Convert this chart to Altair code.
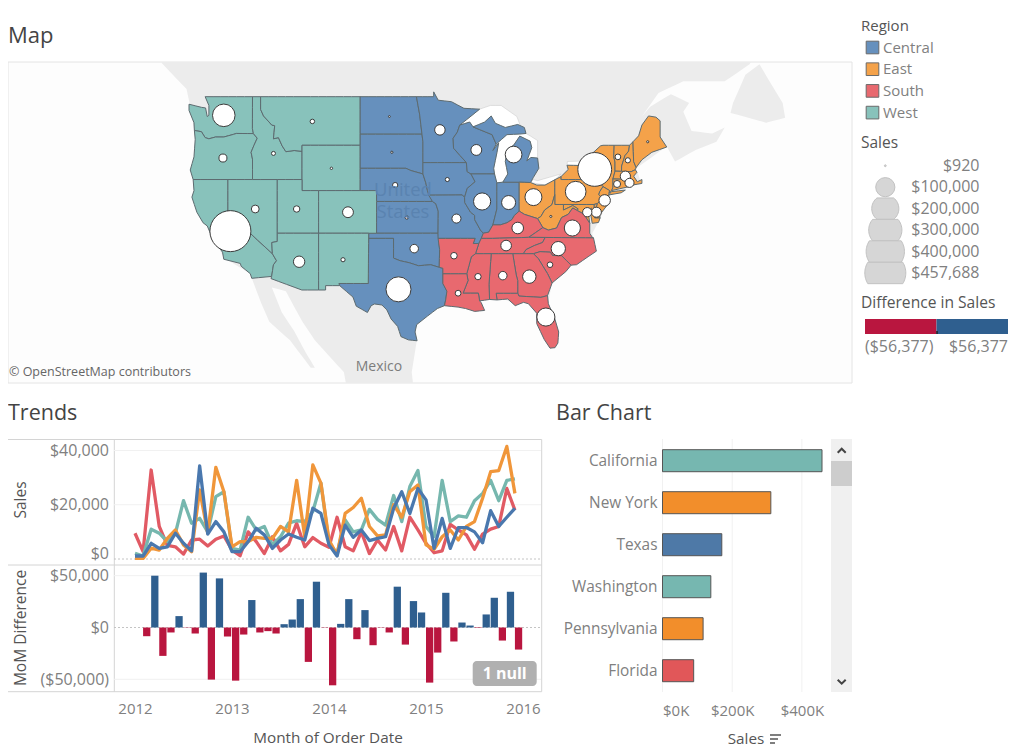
import math
import altair as alt

W, H = 1008, 740
FONT = "Open Sans"
GREY = "#808080"
DARK = "#555555"
TITLE = "#444444"
FRAME = "#d4d4d4"
FAINT = "#f1f1f1"

REGIONS = ["Central", "East", "South", "West"]
MAP_COLORS = ["#6690bd", "#f4a24a", "#e8696f", "#88c2bb"]
LINE_COLORS = ["#4a78ae", "#f0963a", "#e15a64", "#76b7ae"]
BAR_COLORS = ["#4e79a7", "#f28e2b", "#e15759", "#76b7b0"]
NEG, POS = "#b9163f", "#2f5f8f"

STATE_REGION = {
    "Central": ["North Dakota", "South Dakota", "Nebraska", "Kansas", "Oklahoma", "Texas", "Minnesota", "Iowa",
                "Missouri", "Wisconsin", "Illinois", "Indiana", "Michigan"],
    "East": ["Ohio", "Pennsylvania", "New York", "Vermont", "New Hampshire", "Maine", "Massachusetts", "Rhode Island",
             "Connecticut", "New Jersey", "Delaware", "Maryland", "West Virginia"],
    "South": ["Kentucky", "Virginia", "Tennessee", "North Carolina", "South Carolina", "Georgia", "Florida", "Alabama",
              "Mississippi", "Louisiana", "Arkansas"],
    "West": ["Washington", "Oregon", "California", "Nevada", "Idaho", "Montana", "Wyoming", "Utah", "Colorado",
             "Arizona", "New Mexico"],
}

STATE_SALES = {
    "California": 457688, "New York": 310876, "Texas": 170188, "Washington": 138641, "Pennsylvania": 116512,
    "Florida": 89474, "Illinois": 80166, "Ohio": 78258, "Michigan": 76270, "Virginia": 70637,
    "North Carolina": 55603, "Indiana": 53555, "Georgia": 49096, "Kentucky": 36592, "New Jersey": 35764,
    "Arizona": 35282, "Wisconsin": 32115, "Colorado": 32108, "Tennessee": 30662, "Minnesota": 29863,
    "Massachusetts": 28634, "Delaware": 27451, "Maryland": 23706, "Rhode Island": 22628, "Missouri": 22205,
    "Oklahoma": 19683, "Alabama": 19511, "Oregon": 17431, "Nevada": 16729, "Connecticut": 13384, "Utah": 11220,
    "Arkansas": 11678, "Mississippi": 10771, "Louisiana": 9217, "Vermont": 8929, "South Carolina": 8482,
    "Nebraska": 7465, "New Hampshire": 7293, "Montana": 5589, "New Mexico": 4784, "Iowa": 4580, "Kansas": 2914,
    "Idaho": 4382, "Wyoming": 1603, "South Dakota": 1316, "Maine": 1271, "West Virginia": 1210, "North Dakota": 920,
}

STATE_CENTER = {
    "Washington": (-120.5, 47.5), "Oregon": (-120.6, 43.9), "California": (-119.7, 37.2), "Nevada": (-116.7, 39.3),
    "Idaho": (-114.5, 44.3), "Montana": (-109.8, 47.0), "Wyoming": (-107.5, 43.0), "Utah": (-111.7, 39.3),
    "Colorado": (-105.5, 39.0), "Arizona": (-111.4, 34.2), "New Mexico": (-106.1, 34.4),
    "North Dakota": (-100.5, 47.4), "South Dakota": (-100.2, 44.4), "Nebraska": (-99.8, 41.5), "Kansas": (-98.4, 38.5),
    "Oklahoma": (-97.5, 35.5), "Texas": (-99.4, 31.4), "Minnesota": (-94.4, 46.3), "Iowa": (-93.5, 42.0),
    "Missouri": (-92.4, 38.4), "Wisconsin": (-90.0, 44.6), "Illinois": (-89.3, 40.0), "Michigan": (-85.5, 44.2),
    "Indiana": (-86.1, 39.9), "Ohio": (-83.1, 40.4), "Kentucky": (-85.0, 37.5), "Tennessee": (-86.4, 35.8),
    "Arkansas": (-92.7, 34.8), "Louisiana": (-92.2, 31.0), "Mississippi": (-89.8, 32.7), "Alabama": (-86.8, 32.8),
    "Georgia": (-83.6, 32.7), "South Carolina": (-81.1, 33.9), "North Carolina": (-80.1, 35.5),
    "Virginia": (-78.4, 37.5), "West Virginia": (-81.0, 38.6), "Florida": (-81.6, 28.5), "Pennsylvania": (-78.0, 40.9),
    "New York": (-75.7, 42.9), "Vermont": (-72.9, 44.0), "New Hampshire": (-71.7, 43.7), "Maine": (-69.3, 45.3),
    "Massachusetts": (-72.0, 42.3), "Rhode Island": (-71.5, 41.7), "Connecticut": (-73.0, 41.6),
    "New Jersey": (-74.5, 40.1), "Delaware": (-75.5, 39.0), "Maryland": (-76.6, 39.0),
}

OUTLINES = {
    "Washington": [[(-124.7,48.4),(-123.2,48.15),(-122.7,48.1),(-122.5,47.4),(-122.3,47.5),(-122.3,48.3),(-122.75,49),(-117.03,49),(-117.04,46.4),(-116.92,45.99),(-118.98,46),(-119.3,45.93),(-120.5,45.7),(-121.5,45.7),(-122.3,45.55),(-122.75,45.65),(-123.2,46.15),(-124.05,46.25),(-124.1,46.9),(-124.7,47.9)]],
    "Oregon": [[(-124.05,46.25),(-123.2,46.15),(-122.75,45.65),(-122.3,45.55),(-121.5,45.7),(-120.5,45.7),(-119.3,45.93),(-118.98,46),(-116.92,45.99),(-116.46,45.6),(-116.85,45),(-117.2,44.4),(-117.03,43.8),(-117.03,42),(-124.2,42),(-124.55,42.85),(-124.1,44),(-123.95,45.5)]],
    "Idaho": [[(-117.03,49),(-116.05,49),(-116.05,47.98),(-115.7,47.45),(-114.7,46.7),(-114.35,46.65),(-114.5,45.55),(-113.9,45.65),(-113.45,44.95),(-113,44.45),(-112,44.55),(-111.05,44.48),(-111.05,42),(-117.03,42),(-117.03,43.8),(-117.2,44.4),(-116.85,45),(-116.46,45.6),(-116.92,45.99),(-117.04,46.4)]],
    "Montana": [[(-116.05,49),(-104.05,49),(-104.05,45),(-111.05,45),(-111.05,44.48),(-112,44.55),(-113,44.45),(-113.45,44.95),(-113.9,45.65),(-114.5,45.55),(-114.35,46.65),(-114.7,46.7),(-115.7,47.45),(-116.05,47.98)]],
    "Wyoming": [[(-111.05,45),(-104.05,45),(-104.05,41),(-111.05,41)]],
    "Nevada": [[(-120,42),(-114.04,42),(-114.04,36.2),(-114.7,36.1),(-114.63,35),(-120,39)]],
    "Utah": [[(-114.04,42),(-111.05,42),(-111.05,41),(-109.05,41),(-109.05,37),(-114.04,37)]],
    "California": [[(-124.2,42),(-120,42),(-120,39),(-114.63,35),(-114.13,34.3),(-114.5,33.9),(-114.72,32.72),(-117.12,32.53),(-117.3,33),(-118.4,33.75),(-118.5,34.03),(-120.5,34.45),(-120.65,35.15),(-121.9,36.6),(-122.5,37.7),(-123,38),(-123.75,39),(-124.35,40.4),(-124.1,41)]],
    "Arizona": [[(-114.63,35),(-114.7,36.1),(-114.04,36.2),(-114.04,37),(-109.05,37),(-109.05,31.33),(-111.07,31.33),(-114.8,32.5),(-114.72,32.72),(-114.5,33.9),(-114.13,34.3)]],
    "Colorado": [[(-109.05,41),(-102.05,41),(-102.05,37),(-109.05,37)]],
    "New Mexico": [[(-109.05,37),(-103,37),(-103.05,32),(-106.6,32),(-106.5,31.78),(-108.2,31.78),(-108.2,31.33),(-109.05,31.33)]],
    "North Dakota": [[(-104.05,49),(-97.23,49),(-96.85,47.6),(-96.56,45.94),(-104.05,45.94)]],
    "South Dakota": [[(-104.05,45.94),(-96.56,45.94),(-96.45,45.3),(-96.45,43.5),(-96.45,42.5),(-97.9,42.8),(-98.5,43),(-104.05,43)]],
    "Nebraska": [[(-104.05,43),(-98.5,43),(-97.9,42.8),(-96.45,42.5),(-96.1,41.7),(-95.9,41),(-95.3,40),(-102.05,40),(-102.05,41),(-104.05,41)]],
    "Kansas": [[(-102.05,40),(-95.3,40),(-94.9,39.8),(-94.6,39.1),(-94.62,37),(-102.05,37)]],
    "Oklahoma": [[(-103,37),(-94.62,37),(-94.43,35.4),(-94.48,33.64),(-95.5,33.9),(-97,33.8),(-98.1,34.1),(-99.2,34.3),(-100,34.56),(-100,36.5),(-103,36.5)]],
    "Texas": [[(-106.6,32),(-103.05,32),(-103,36.5),(-100,36.5),(-100,34.56),(-99.2,34.3),(-98.1,34.1),(-97,33.8),(-95.5,33.9),(-94.48,33.64),(-94.04,33.55),(-94.04,33),(-94.04,32),(-93.55,31.2),(-93.7,30.3),(-93.85,29.7),(-94.7,29.4),(-95.9,28.6),(-97.2,27.7),(-97.4,26.9),(-97.15,25.95),(-98.2,26.05),(-99.1,26.4),(-99.5,27.5),(-100.3,28.3),(-100.8,29.25),(-101.4,29.77),(-102.3,29.88),(-102.7,29.7),(-103.15,28.98),(-104.5,29.65),(-104.9,30.6),(-106.5,31.78)]],
    "Minnesota": [[(-97.23,49),(-95.15,49),(-95.15,49.38),(-94.6,48.72),(-93,48.6),(-91.5,48.07),(-89.6,48),(-92,46.7),(-92.3,46.1),(-92.8,45.6),(-92.75,44.75),(-91.2,43.5),(-96.45,43.5),(-96.45,45.3),(-96.56,45.94),(-96.85,47.6)]],
    "Iowa": [[(-96.45,43.5),(-91.2,43.5),(-91.1,42.7),(-90.64,42.5),(-90.15,41.8),(-91.1,41.2),(-91.42,40.38),(-91.7,40.6),(-95.75,40.58),(-95.9,41),(-96.1,41.7),(-96.45,42.5)]],
    "Missouri": [[(-95.75,40.58),(-91.7,40.6),(-91.42,40.38),(-91.4,39.9),(-90.7,39),(-90.2,38.7),(-90.2,38.3),(-89.5,37.3),(-89.15,37),(-89.4,36.5),(-89.7,36),(-90.37,36),(-90.15,36.5),(-94.62,36.5),(-94.62,37),(-94.6,39.1),(-94.9,39.8),(-95.3,40)]],
    "Arkansas": [[(-94.62,36.5),(-90.15,36.5),(-90.37,36),(-89.7,36),(-90.1,35),(-90.6,34.7),(-91.15,33),(-94.04,33),(-94.04,33.55),(-94.48,33.64),(-94.43,35.4)]],
    "Louisiana": [[(-94.04,33),(-91.15,33),(-91,32.3),(-91.6,31),(-89.75,31),(-89.6,30.2),(-89.4,30),(-89,29.2),(-90.2,29.1),(-91.3,29.4),(-92.2,29.55),(-93.85,29.7),(-93.7,30.3),(-93.55,31.2),(-94.04,32)]],
    "Mississippi": [[(-90.1,35),(-88.2,35),(-88.47,31.9),(-88.4,30.35),(-89.6,30.2),(-89.75,31),(-91.6,31),(-91,32.3),(-91.15,33),(-90.6,34.7)]],
    "Alabama": [[(-88.2,35),(-85.6,35),(-85.18,32.87),(-85,32.3),(-85,31),(-87.6,31),(-87.5,30.3),(-88.4,30.35),(-88.47,31.9)]],
    "Georgia": [[(-85.6,35),(-83.1,35),(-82.5,34.5),(-81.4,33),(-80.85,32.05),(-81.4,30.75),(-82.2,30.57),(-84.85,30.7),(-85,31),(-85,32.3),(-85.18,32.87)]],
    "Florida": [[(-87.6,31),(-85,31),(-84.85,30.7),(-82.2,30.57),(-81.4,30.75),(-81.3,29.9),(-80.55,28.4),(-80.05,26.9),(-80.15,25.7),(-80.5,25.2),(-81.1,25.15),(-81.8,26.1),(-82.7,27.8),(-82.7,28.9),(-83.7,29.9),(-84.3,30.05),(-85.3,29.7),(-86.2,30.4),(-87.5,30.3)]],
    "South Carolina": [[(-83.1,35),(-82.3,35.2),(-81.05,35.15),(-80.8,34.82),(-79.7,34.8),(-78.55,33.86),(-79.2,33.2),(-80.5,32.3),(-80.85,32.05),(-81.4,33),(-82.5,34.5)]],
    "North Carolina": [[(-84.32,35),(-83.1,35),(-82.3,35.2),(-81.05,35.15),(-80.8,34.82),(-79.7,34.8),(-78.55,33.86),(-77.9,33.9),(-76.5,34.7),(-75.5,35.25),(-75.85,36.55),(-81.68,36.59),(-82,36.1),(-83,35.8),(-84,35.4)]],
    "Tennessee": [[(-89.7,36),(-89.4,36.5),(-88.05,36.5),(-83.68,36.6),(-81.68,36.59),(-82,36.1),(-83,35.8),(-84,35.4),(-84.32,35),(-85.6,35),(-88.2,35),(-90.1,35)]],
    "Kentucky": [[(-89.4,36.5),(-89.15,37),(-88.5,37.1),(-88,37.8),(-87.1,37.8),(-86.3,38),(-85.7,38.3),(-85.4,38.7),(-84.82,39.1),(-84.2,38.8),(-83.6,38.65),(-82.6,38.4),(-81.97,37.54),(-83.68,36.6),(-88.05,36.5)]],
    "Virginia": [[(-83.68,36.6),(-81.97,37.54),(-81.3,37.3),(-80.3,37.5),(-79.7,38.5),(-78.9,38.8),(-78.35,39.4),(-77.8,39.15),(-77.05,38.85),(-76.3,37.95),(-76.3,37),(-75.95,36.55),(-75.85,36.55),(-81.68,36.59)]],
    "West Virginia": [[(-82.6,38.4),(-82.2,38.6),(-81.75,39.2),(-80.87,39.7),(-80.52,40.64),(-80.52,39.72),(-79.48,39.72),(-79.48,39.2),(-78.35,39.62),(-77.72,39.32),(-77.8,39.15),(-78.35,39.4),(-78.9,38.8),(-79.7,38.5),(-80.3,37.5),(-81.3,37.3),(-81.97,37.54)]],
    "Ohio": [[(-84.82,41.76),(-83.45,41.73),(-82.7,41.5),(-81.7,41.5),(-80.52,41.98),(-80.52,40.64),(-80.87,39.7),(-81.75,39.2),(-82.2,38.6),(-82.6,38.4),(-83.6,38.65),(-84.2,38.8),(-84.82,39.1)]],
    "Indiana": [[(-87.52,41.7),(-86.8,41.76),(-84.82,41.76),(-84.82,39.1),(-85.4,38.7),(-85.7,38.3),(-86.3,38),(-87.1,37.8),(-88,37.8),(-87.52,39.3)]],
    "Illinois": [[(-90.64,42.5),(-87.8,42.5),(-87.52,41.7),(-87.52,39.3),(-88,37.8),(-88.5,37.1),(-89.15,37),(-89.5,37.3),(-90.2,38.3),(-90.2,38.7),(-90.7,39),(-91.4,39.9),(-91.42,40.38),(-91.1,41.2),(-90.15,41.8)]],
    "Wisconsin": [[(-92.75,44.75),(-92.8,45.6),(-92.3,46.1),(-92,46.7),(-90.8,46.95),(-90.4,46.55),(-88.1,45.9),(-87.6,45.1),(-88,44.55),(-87.3,45.2),(-87.5,44.4),(-87.9,43),(-87.8,42.5),(-90.64,42.5),(-91.1,42.7),(-91.2,43.5)]],
    "Michigan": [[(-86.8,41.76),(-84.82,41.76),(-83.45,41.73),(-83.1,42.2),(-82.45,43),(-82.6,43.9),(-83.4,43.95),(-83.9,43.65),(-83.3,44.8),(-83.5,45.35),(-84.75,45.78),(-85.5,45),(-86.2,44.7),(-86.5,43.6),(-86.2,42.5)],
                 [(-90.4,46.55),(-89,46.95),(-88.2,47.45),(-87.7,46.85),(-86.5,46.5),(-85,46.75),(-84.2,46.5),(-84,46),(-84.75,45.95),(-86.3,45.9),(-87.6,45.1),(-88.1,45.9)]],
    "Pennsylvania": [[(-80.52,41.98),(-79.76,42.27),(-79.76,42),(-75.35,42),(-74.7,41.36),(-75.1,40.9),(-75.2,40.65),(-74.75,40.2),(-75.4,39.8),(-75.79,39.72),(-80.52,39.72),(-80.52,40.64)]],
    "New York": [[(-79.76,42.27),(-78.9,42.9),(-79.05,43.27),(-77.5,43.25),(-76.2,43.55),(-76.3,44.1),(-75,44.95),(-74.7,45),(-73.35,45),(-73.4,44),(-73.25,43.55),(-73.25,42.75),(-73.5,42.05),(-73.5,41.3),(-73.65,41),(-74,40.75),(-73.9,41),(-74.7,41.36),(-75.35,42),(-79.76,42)],
                 [(-74,40.6),(-73.7,40.9),(-72,41.05),(-72.5,40.8)]],
    "Vermont": [[(-73.35,45),(-71.5,45),(-71.6,44.5),(-72.05,44.1),(-72.45,43.2),(-72.46,42.73),(-73.25,42.75),(-73.25,43.55),(-73.4,44)]],
    "New Hampshire": [[(-71.5,45),(-71.08,45.3),(-71,43.6),(-70.7,43.07),(-70.8,42.87),(-71.3,42.7),(-72.46,42.73),(-72.45,43.2),(-72.05,44.1),(-71.6,44.5)]],
    "Maine": [[(-71.08,45.3),(-70.4,45.8),(-70,46.7),(-69.2,47.45),(-68.3,47.35),(-67.8,47.05),(-67.8,45.7),(-67,44.85),(-68.8,44.4),(-70,43.75),(-70.7,43.07),(-71,43.6)]],
    "Massachusetts": [[(-73.5,42.05),(-73.25,42.75),(-72.46,42.73),(-71.3,42.7),(-70.8,42.87),(-70.6,42.65),(-71,42.3),(-70.55,41.8),(-70,42),(-70,41.65),(-71.15,41.5),(-71.4,42.02),(-71.8,42.02)]],
    "Connecticut": [[(-73.5,42.05),(-71.8,42.02),(-71.8,41.32),(-73.65,41),(-73.5,41.3)]],
    "Rhode Island": [[(-71.8,42.02),(-71.4,42.02),(-71.15,41.5),(-71.8,41.32)]],
    "New Jersey": [[(-74.7,41.36),(-73.9,41),(-74,40.75),(-74,40.4),(-74.1,39.75),(-74.9,38.95),(-75.5,39.5),(-75.4,39.8),(-74.75,40.2),(-75.2,40.65),(-75.1,40.9)]],
    "Delaware": [[(-75.4,39.8),(-75.5,39.5),(-75.1,38.8),(-75.05,38.45),(-75.7,38.46),(-75.79,39.72)]],
    "Maryland": [[(-79.48,39.72),(-75.79,39.72),(-75.7,38.46),(-75.05,38.45),(-75.25,38.03),(-76,37.95),(-76.2,38.9),(-76.1,39.4),(-76.5,39.1),(-76.3,37.95),(-77.05,38.85),(-77.8,39.15),(-77.72,39.32),(-78.35,39.62),(-79.48,39.2)]],
}

LAND = [[(-128,53),(-128,51.6),(-125,49.6),(-124.6,48.4),(-124,46),(-124,42),(-123.5,39),(-122,37),(-120.5,34.6),(-117.3,33),(-117.1,32.5),(-116,30),(-115,28),(-112.5,26),(-110,23),(-109.5,23),(-110.5,24.5),(-112,27),(-113.5,29),(-114.7,31.6),(-113,31.2),(-111,28),(-109.5,26),(-106,22.5),(-105.5,20),(-97.5,20),(-97.8,22.5),(-97.2,25.9),(-97.3,27.5),(-95,29.3),(-93.8,29.8),(-91,29.6),(-89.2,29.3),(-89.5,30.3),(-87,30.5),(-85.3,29.9),(-83.8,30),(-82.8,29),(-82.7,27.8),(-81.2,25.5),(-80.3,25.5),(-80.2,27),(-81.3,30),(-80.9,32),(-78.6,33.9),(-75.6,35.3),(-76,37),(-75.3,38),(-74.2,39.8),(-74,40.6),(-70.1,41.7),(-70.7,43),(-68,44.4),(-67,44.9),(-66,43.6),(-63.5,44.6),(-61,45.3),(-60,46.5),(-61.5,46),(-64,46.2),(-65,47.8),(-64.3,48.5),(-66.5,49.2),(-69,48.2),(-70,47.4),(-68,49.3),(-65,50.2),(-60,50.2),(-57,51.5),(-55.5,53)],
        [(-59.3,47.7),(-59,48.5),(-57.5,50.7),(-55.8,51.5),(-53,48.5),(-52.7,47.3),(-55,46.9)]]

LAKES = [[(-92,46.7),(-89.6,48),(-88.3,48.3),(-87,48.3),(-85.1,47.4),(-84.6,46.5),(-84,46),(-83.5,45.8),(-82.6,45.4),(-82.6,43.4),(-82.45,43),(-82.6,43.9),(-83.9,43.65),(-83.3,44.8),(-83.5,45.35),(-84.75,45.78),(-85.5,45),(-86.2,44.7),(-86.5,43.6),(-86.2,42.5),(-86.8,41.76),(-87.52,41.7),(-87.8,42.5),(-87.9,43),(-87.5,44.4),(-87.3,45.2),(-88,44.55),(-87.6,45.1),(-88.1,45.9),(-90.4,46.55),(-90.8,46.95)],
         [(-83.45,41.73),(-83.1,42),(-82.6,41.9),(-81.2,42.2),(-79.76,42.5),(-80.52,41.98),(-81.7,41.5)],
         [(-79.05,43.27),(-79,43.6),(-76.6,43.65),(-76.3,44.1),(-76.2,43.55),(-77.5,43.25)]]

MONTH_YEARS = [2012 + i / 12 for i in range(48)]
SALES_SOUTH = [9500,2700,32800,12000,5000,4500,1800,7000,7300,4800,7300,8500,3300,1200,10000,6400,2000,8200,
               3000,5400,13200,4500,7900,5800,4300,15400,4500,3000,10000,2000,7000,3300,12000,3000,15400,10700,
               5800,2300,3000,12800,10700,8900,3600,9200,11000,12000,26000,18000]
SALES_WEST = [2100,1100,11000,9500,6400,9500,21500,13200,15000,10000,23000,24800,3900,3300,15400,10700,12000,5200,
              8200,13200,14100,13800,17500,28000,5800,2100,14400,10000,10700,18300,14600,12500,23400,13800,26700,32600,
              12000,8200,29000,13800,15900,15400,21500,24200,29000,21500,29000,29500]
SALES_EAST = [200,200,4000,3300,7600,10700,5200,2700,25500,9500,33800,24800,4500,6400,6400,8000,7600,7600,
              12000,10000,29000,8200,34700,28000,7000,1500,16800,19000,22400,12000,8500,8900,20000,15400,24800,27300,
              5200,3600,8200,10700,7000,12000,13800,22400,32200,32600,41500,24200]
SALES_CENTRAL = [1100,1100,5800,3900,4500,9500,5800,3000,34300,9200,13800,10000,2700,2700,6400,11300,8900,3900,
                 7000,9200,8000,7000,18700,16800,5200,1100,12500,8000,10700,6800,7600,8200,18700,24800,16800,26000,
                 21800,3900,15000,3900,11600,11600,10000,6000,17800,12000,15400,18700]
MOM_DIFF = [None,-8400,50000,-27400,-4800,11000,-300,-5800,53000,-50300,47400,-8700,-51300,-6800,26500,-4800,-3500,-5800,
            3200,7700,27400,-33200,44200,-300,-55800,3500,27400,-11300,16800,-17100,-300,-4800,39400,-16500,25500,14500,
            -53200,-24200,33500,-13500,4800,1900,-500,12600,28700,-12600,34500,-21300]

BAR_STATES = ["California", "New York", "Texas", "Washington", "Pennsylvania", "Florida"]
BAR_REGIONS = ["West", "East", "Central", "West", "East", "South"]

SIZE_LEGEND_VALUES = [920, 100000, 200000, 300000, 400000, 457688]
SIZE_LEGEND_LABELS = ["$920", "$100,000", "$200,000", "$300,000", "$400,000", "$457,688"]
DIFF_EXTENT = 56377


def px(v):
    return v - 8


def ring_geo(ring):
    pts = []
    n = len(ring)
    for i in range(n):
        a, b = ring[i], ring[(i + 1) % n]
        steps = max(1, math.ceil(max(abs(a[0] - b[0]), abs(a[1] - b[1]))))
        for s in range(steps):
            pts.append([a[0] + (b[0] - a[0]) * s / steps, a[1] + (b[1] - a[1]) * s / steps])
    area = sum(pts[i][0] * pts[(i + 1) % len(pts)][1] - pts[(i + 1) % len(pts)][0] * pts[i][1] for i in range(len(pts)))
    if area > 0:
        pts.reverse()
    pts.append(pts[0])
    return pts


def feature(rings, **props):
    return {"type": "Feature", "properties": props,
            "geometry": {"type": "MultiPolygon", "coordinates": [[ring_geo(r)] for r in rings]}}


def label(text, x, y, size=14, color=GREY, align="left", angle=0, weight="normal"):
    return alt.Chart().mark_text(text=text, font=FONT, fontSize=size, color=color, align=align, baseline="middle",
                                 angle=angle, fontWeight=weight).encode(x=alt.value(px(x)), y=alt.value(px(y)))


def line_seg(x0, y0, x1, y1, color=FRAME, width=1, dash=None):
    kw = {"strokeDash": dash} if dash else {}
    return alt.Chart().mark_rule(color=color, strokeWidth=width, **kw).encode(
        x=alt.value(px(x0)), x2=alt.value(px(x1)), y=alt.value(px(y0)), y2=alt.value(px(y1)))


def box(x0, y0, x1, y1, fill, radius=0, stroke=None):
    kw = {"stroke": stroke, "strokeWidth": 1} if stroke else {}
    return alt.Chart().mark_rect(fill=fill, cornerRadius=radius, **kw).encode(
        x=alt.value(px(x0)), x2=alt.value(px(x1)), y=alt.value(px(y0)), y2=alt.value(px(y1)))


# ---------- Map ----------
PROJ = dict(type="mercator", scale=474.4, translate=[1213.5, 555.4], clipExtent=[[0, 54], [844, 375]])
state_features = []
for region, names in STATE_REGION.items():
    for name in names:
        state_features.append(feature(OUTLINES[name], region=region, state=name))

land = alt.Chart(alt.Data(values=[feature(LAND, kind="land")])).mark_geoshape(
    fill="#ececec", stroke=None).project(**PROJ)
lakes = alt.Chart(alt.Data(values=[feature(LAKES, kind="lake")])).mark_geoshape(
    fill="#ffffff", stroke="#cfcfcf", strokeWidth=0.6).project(**PROJ)
region_legend = alt.Legend(orient="none", legendX=px(861), legendY=px(19), title="Region", symbolType="square",
                           symbolSize=160, symbolOffset=4, symbolStrokeColor="#6a6a6a", symbolStrokeWidth=1,
                           labelFont=FONT, labelFontSize=15, labelColor=GREY, labelOffset=3,
                           titleFont=FONT, titleFontSize=15, titleColor=DARK, titleFontWeight="normal",
                           titlePadding=6, rowPadding=4.7, symbolOpacity=1, padding=0)
states = alt.Chart(alt.Data(values=state_features)).mark_geoshape(stroke="#5d6b70", strokeWidth=1).encode(
    color=alt.Color("properties.region:N", scale=alt.Scale(domain=REGIONS, range=MAP_COLORS), legend=region_legend)
).project(**PROJ)

SIZE_SCALE = alt.Scale(domain=[0, 457688], range=[0, 1681], zero=True, nice=False)
circle_rows = [{"state": s, "sales": STATE_SALES[s], "lon": STATE_CENTER[s][0], "lat": STATE_CENTER[s][1]}
               for s in sorted(STATE_SALES, key=lambda k: -STATE_SALES[k])]
circles = alt.Chart(alt.Data(values=circle_rows)).mark_circle(fill="#ffffff", stroke="#3c3c3c", strokeWidth=1,
                                                              opacity=1).encode(
    longitude="lon:Q", latitude="lat:Q",
    size=alt.Size("sales:Q", scale=SIZE_SCALE, legend=None)
).project(**PROJ)
map_geo = alt.layer(land, lakes, states, circles)

# ---------- Trends ----------
X_SCALE = alt.Scale(domain=[2012, 2016], range=[px(135), px(523)], zero=False, nice=False)
SALES_Y = alt.Scale(domain=[0, 48000], range=[px(559), px(428.8)], zero=False, nice=False)
MOM_Y = alt.Scale(domain=[-50000, 50000], range=[px(679.3), px(575.7)], zero=False, nice=False)
SALES_AXIS = alt.Axis(orient="left", offset=-px(108.5), values=[0, 20000, 40000], format="$,.0f", title=None,
                      domain=False, ticks=False, grid=False, labelColor=GREY, labelFontSize=16, labelFont=FONT,
                      labelPadding=0, labelFlush=True, labelFlushOffset=2)
MOM_AXIS = alt.Axis(orient="left", offset=-px(108.5), values=[-50000, 0, 50000], title=None, domain=False, ticks=False,
                    grid=False, labelExpr="datum.value < 0 ? '($' + format(-datum.value, ',') + ')' : '$' + format(datum.value, ',')",
                    labelColor=GREY, labelFontSize=16, labelFont=FONT, labelPadding=0, labelFlush=False)
series = [("South", SALES_SOUTH), ("West", SALES_WEST), ("East", SALES_EAST), ("Central", SALES_CENTRAL)]
line_rows = [{"x": x, "sales": v, "region": r} for r, vals in series for x, v in zip(MONTH_YEARS, vals)]
sales_grid = alt.Chart(alt.Data(values=[{"v": 20000}, {"v": 40000}])).mark_rule(color=FAINT).encode(
    y=alt.Y("v:Q", scale=SALES_Y, axis=SALES_AXIS), x=alt.value(px(114)), x2=alt.value(px(541)))
sales_zero = alt.Chart(alt.Data(values=[{"v": 0}])).mark_rule(color="#c4c4c4", strokeDash=[2, 2]).encode(
    y=alt.Y("v:Q", scale=SALES_Y, axis=SALES_AXIS), x=alt.value(px(114)), x2=alt.value(px(541)))
sales_lines = alt.Chart(alt.Data(values=line_rows)).mark_line(strokeWidth=3.3, strokeJoin="round").encode(
    x=alt.X("x:Q", scale=X_SCALE, axis=None),
    y=alt.Y("sales:Q", scale=SALES_Y, axis=SALES_AXIS),
    color=alt.Color("region:N", scale=alt.Scale(domain=REGIONS, range=LINE_COLORS), legend=None))
trend_panel = alt.layer(sales_grid, sales_zero, sales_lines)

bar_rows = [{"x": x, "x2": x + 0.9 / 12, "diff": d, "zero": 0} for x, d in zip(MONTH_YEARS, MOM_DIFF) if d is not None]
mom_grid = alt.Chart(alt.Data(values=[{"v": -50000}, {"v": 50000}])).mark_rule(color=FAINT).encode(
    y=alt.Y("v:Q", scale=MOM_Y, axis=MOM_AXIS), x=alt.value(px(114)), x2=alt.value(px(541)))
mom_zero = alt.Chart(alt.Data(values=[{"v": 0}])).mark_rule(color="#c4c4c4", strokeDash=[2, 2]).encode(
    y=alt.Y("v:Q", scale=MOM_Y, axis=MOM_AXIS), x=alt.value(px(114)), x2=alt.value(px(541)))
mom_bars = alt.Chart(alt.Data(values=bar_rows)).mark_rect().encode(
    x=alt.X("x:Q", scale=X_SCALE, axis=alt.Axis(
        orient="bottom", offset=px(692) - H, values=[2012, 2013, 2014, 2015, 2016], format="d", title=None,
        domain=False, ticks=False, grid=False, labelColor=GREY, labelFontSize=15, labelFont=FONT, labelPadding=9,
        labelFlush=False)),
    x2="x2:Q",
    y=alt.Y("diff:Q", scale=MOM_Y, axis=MOM_AXIS),
    y2="zero:Q",
    color=alt.condition("datum.diff > 0", alt.value(POS), alt.value(NEG)))
mom_panel = alt.layer(mom_grid, mom_zero, mom_bars)

# ---------- Bar chart ----------
BAR_X = alt.Scale(domain=[0, 483500], range=[px(662.5), px(831)], zero=False, nice=False)
BAR_Y = alt.Scale(domain=BAR_STATES, range=[px(439.7), px(691.7)], paddingInner=0.476, paddingOuter=0.238)
BAR_AXIS = alt.Axis(orient="bottom", offset=px(692) - H, values=[0, 200000, 400000], title=None, domain=False,
                    ticks=False, grid=False, labelExpr="'$' + datum.value / 1000 + 'K'", labelFlush=True,
                    labelColor=GREY, labelFontSize=15, labelFont=FONT, labelPadding=11)
bar_grid = alt.Chart(alt.Data(values=[{"v": 0}, {"v": 200000}, {"v": 400000}])).mark_rule(color=FAINT).encode(
    x=alt.X("v:Q", scale=BAR_X, axis=BAR_AXIS), y=alt.value(px(439)), y2=alt.value(px(692)))
bar_table = [{"state": s, "sales": STATE_SALES[s], "region": r} for s, r in zip(BAR_STATES, BAR_REGIONS)]
bars = alt.Chart(alt.Data(values=bar_table)).mark_bar(stroke="#555555", strokeWidth=1).encode(
    x=alt.X("sales:Q", scale=BAR_X, axis=BAR_AXIS),
    y=alt.Y("state:N", scale=BAR_Y, sort=BAR_STATES, axis=alt.Axis(
        orient="left", offset=-px(657), title=None, domain=False, ticks=False, grid=False, labelColor=GREY,
        labelFontSize=15.4, labelFont=FONT, labelPadding=0)),
    color=alt.Color("region:N", scale=alt.Scale(domain=REGIONS, range=BAR_COLORS), legend=None))
bar_panel = alt.layer(bar_grid, bars)

chevron_up = alt.Chart().mark_point(shape="M-1,0.5L0,-0.5L1,0.5", filled=False, size=64, stroke="#444444",
                                    strokeWidth=2, opacity=1).encode(x=alt.value(px(841.7)), y=alt.value(px(450.7)))
chevron_dn = alt.Chart().mark_point(shape="M-1,-0.5L0,0.5L1,-0.5", filled=False, size=64, stroke="#444444",
                                    strokeWidth=2, opacity=1).encode(x=alt.value(px(841.7)), y=alt.value(px(681.7)))

# ---------- Sales size legend ----------
ROW_HALF = 10.7


def clipped_symbol(value):
    d = math.sqrt(value / 457688 * 1681)
    r = d / 2
    if r <= ROW_HALF:
        return "circle"
    limit = ROW_HALF / r
    angs = [-math.asin(limit) + 2 * math.asin(limit) * i / 16 for i in range(17)]
    right = [(math.cos(a), math.sin(a)) for a in angs]
    left = [(-x, -y) for x, y in right]
    pts = right + left
    return "M" + "L".join(f"{x:.4f},{y:.4f}" for x, y in pts) + "Z"


size_rows = [{"label": l, "value": v, "glyph": clipped_symbol(v)} for l, v in zip(SIZE_LEGEND_LABELS, SIZE_LEGEND_VALUES)]
SIZE_Y = alt.Scale(domain=SIZE_LEGEND_LABELS, range=[px(155), px(283.7)], paddingInner=0, paddingOuter=0)
size_glyphs = alt.Chart(alt.Data(values=size_rows)).mark_point(filled=True, fill="#d6d6d6", stroke="#c2c2c2",
                                                               strokeWidth=1, opacity=1).encode(
    x=alt.value(px(885.3)),
    y=alt.Y("label:N", scale=SIZE_Y, sort=SIZE_LEGEND_LABELS, axis=None),
    size=alt.Size("value:Q", scale=SIZE_SCALE, legend=None),
    shape=alt.Shape("glyph:N", scale=None, legend=None))
size_text = alt.Chart(alt.Data(values=size_rows)).mark_text(align="right", baseline="middle", font=FONT, fontSize=16,
                                                            color=GREY).encode(
    x=alt.value(px(979.5)),
    y=alt.Y("label:N", scale=SIZE_Y, sort=SIZE_LEGEND_LABELS, axis=None),
    text="label:N")
size_panel = alt.layer(size_glyphs, size_text)

# ---------- Difference legend ----------
DIFF_X = alt.Scale(domain=[-DIFF_EXTENT, DIFF_EXTENT], range=[px(865), px(1008)], zero=False, nice=False)
diff_rows = [{"from": -DIFF_EXTENT, "to": 0, "sign": "neg"}, {"from": 0, "to": DIFF_EXTENT, "sign": "pos"}]
diff_bar = alt.Chart(alt.Data(values=diff_rows)).mark_rect().encode(
    x=alt.X("from:Q", scale=DIFF_X, axis=None), x2="to:Q", y=alt.value(px(319)), y2=alt.value(px(334)),
    color=alt.Color("sign:N", scale=alt.Scale(domain=["neg", "pos"], range=[NEG, POS]), legend=None))

sort_icon = [line_seg(770, 735, 781, 735, DARK, 1.5), line_seg(770, 739, 778, 739, DARK, 1.5),
             line_seg(770, 743, 775, 743, DARK, 1.5)]

layers = [
    box(8, 62, 852, 383, "#fdfdfd", stroke="#e4e4e4"),
    map_geo,
    label("United", 403, 190, 18.5, "#5a83b0", "center"),
    label("States", 403, 212, 18.5, "#5a83b0", "center"),
    label("Mexico", 379, 367, 14, "#7c7c7c", "center"),
    label("\u00a9 OpenStreetMap contributors", 9, 372, 12.5, "#666666"),
    label("Map", 8, 36, 22, TITLE),
    label("Trends", 8, 414, 21.5, TITLE),
    label("Bar Chart", 556, 414, 21.5, TITLE),
    line_seg(8, 439.5, 541.7, 439.5),
    line_seg(8, 565, 541.7, 565),
    line_seg(8, 691.7, 541.7, 691.7),
    line_seg(541.7, 439.5, 541.7, 691.7),
    line_seg(114.3, 439.5, 114.3, 691.7),
    trend_panel,
    mom_panel,
    box(472.7, 661, 536.7, 686, "#b0b0b0", radius=4),
    label("1 null", 504.7, 673.5, 16, "#ffffff", "center", weight="bold"),
    label("Sales", 21, 500, 15.5, DARK, "center", angle=270),
    label("MoM Difference", 21, 628, 15.5, DARK, "center", angle=270),
    label("Month of Order Date", 328, 738, 15.3, DARK, "center"),
    box(831, 439, 852, 692, "#f0f0f0"),
    box(831, 461, 852, 486, "#cdcdcd"),
    chevron_up,
    chevron_dn,
    bar_panel,
    label("Sales", 746, 739, 15.3, DARK, "center"),
    *sort_icon,
    label("Sales", 861, 143, 15.5, DARK),
    size_panel,
    label("Difference in Sales", 861, 303, 15.6, DARK),
    diff_bar,
    line_seg(937, 331, 937, 334, "#222222", 1.5),
    label("($56,377)", 865, 347, 16, GREY),
    label("$56,377", 1008, 347, 16, GREY, "right"),
]

chart = alt.layer(*layers).resolve_scale(
    x="independent", y="independent", color="independent", size="independent"
).properties(
    width=W, height=H, padding=0, autosize=alt.AutoSizeParams(type="none")
).configure(font=FONT).configure_view(stroke=None)

chart.save("out.html", embed_options={"renderer": "svg", "actions": False})
